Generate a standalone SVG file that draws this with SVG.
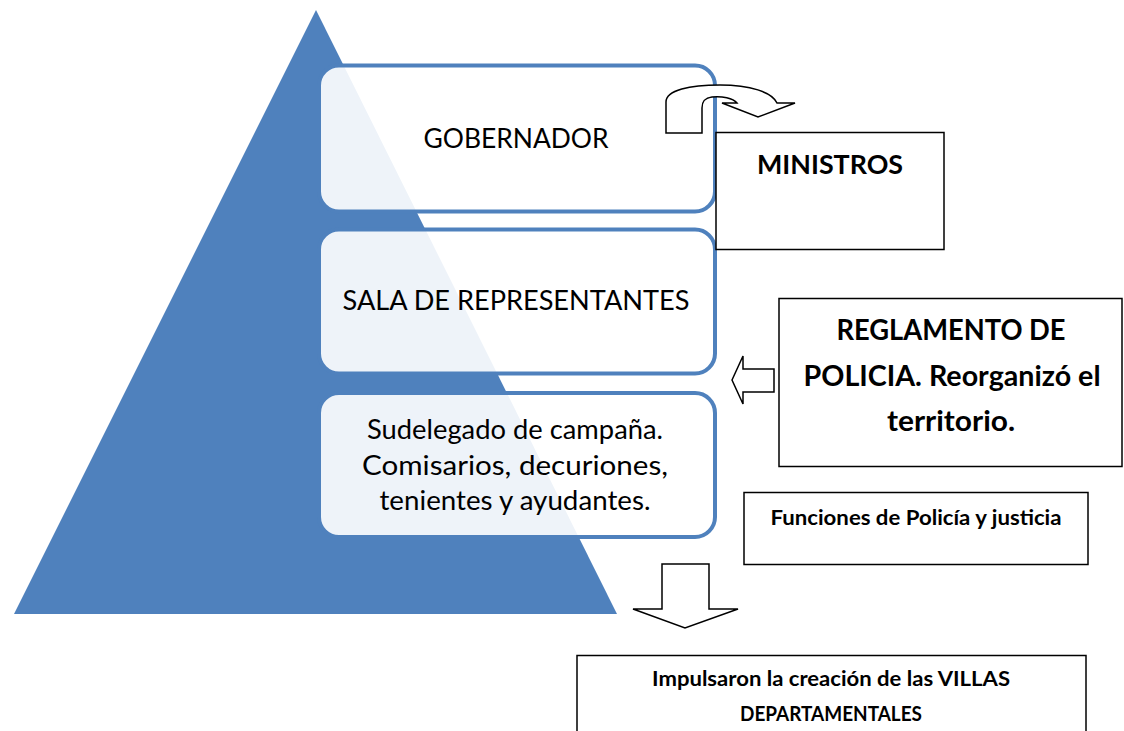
<svg xmlns="http://www.w3.org/2000/svg" width="1124" height="731" viewBox="0 0 1124 731">
<style>
.lvl{fill:#ffffff;fill-opacity:0.9;stroke:#4F81BD;stroke-width:4}
.box{fill:#ffffff;stroke:#000000;stroke-width:1.5}
.arr{fill:#ffffff;stroke:#000000;stroke-width:1.5;stroke-linejoin:miter}
.t{font-family:Lato,"Liberation Sans",sans-serif;fill:#000000;text-anchor:middle}
.b{font-weight:bold}
</style>
<rect width="1124" height="731" fill="#ffffff"/>
<g id="pyramid">
<polygon points="316,10 14,614 617,614" fill="#4F81BD"/>
</g>
<g id="gobernador">
<rect class="lvl" x="319" y="65.5" width="396" height="146" rx="20"/>
<text class="t" x="516" y="148" font-size="27" textLength="185" lengthAdjust="spacingAndGlyphs">GOBERNADOR</text>
</g>
<g id="sala">
<rect class="lvl" x="319" y="229.5" width="396" height="144" rx="20"/>
<text class="t" x="516" y="310" font-size="27" textLength="347" lengthAdjust="spacingAndGlyphs">SALA DE REPRESENTANTES</text>
</g>
<g id="sudelegado">
<rect class="lvl" x="319" y="393" width="396" height="144" rx="20"/>
<text class="t" x="515" y="439" font-size="27" textLength="296" lengthAdjust="spacingAndGlyphs">Sudelegado de campaña.</text>
<text class="t" x="515" y="475" font-size="27" textLength="306" lengthAdjust="spacingAndGlyphs">Comisarios, decuriones,</text>
<text class="t" x="515" y="510" font-size="27" textLength="271" lengthAdjust="spacingAndGlyphs">tenientes y ayudantes.</text>
</g>
<g id="ministros">
<rect class="box" x="716" y="132.5" width="228" height="117"/>
<text class="t b" x="830" y="174" font-size="27" textLength="146" lengthAdjust="spacingAndGlyphs">MINISTROS</text>
</g>
<g id="reglamento">
<rect class="box" x="779" y="298.5" width="343" height="168"/>
<text class="t b" x="951" y="340" font-size="28" textLength="229" lengthAdjust="spacingAndGlyphs">REGLAMENTO DE</text>
<text class="t b" x="952" y="386" font-size="28" textLength="297" lengthAdjust="spacingAndGlyphs">POLICIA. Reorganizó el</text>
<text class="t b" x="951" y="431" font-size="28" textLength="128" lengthAdjust="spacingAndGlyphs">territorio.</text>
</g>
<g id="funciones">
<rect class="box" x="744" y="492.5" width="344" height="72"/>
<text class="t b" x="916" y="525" font-size="21" textLength="291" lengthAdjust="spacingAndGlyphs">Funciones de Policía y justicia</text>
</g>
<g id="impulsaron">
<rect class="box" x="577" y="655.5" width="509" height="90"/>
<text class="t b" x="831" y="686" font-size="21" textLength="358" lengthAdjust="spacingAndGlyphs">Impulsaron la creación de las VILLAS</text>
<text class="t b" x="831" y="721" font-size="21" textLength="182" lengthAdjust="spacingAndGlyphs">DEPARTAMENTALES</text>
</g>
<g id="connectors">
<path class="arr" d="M666,133 L666,102 C666,90 690,85 720,85 C750,85 772,92 777,103 L795,103 L758,117 L722,103 L737,103 C733,98 722,96 712,97 C704,98 702,102 702,108 L702,133 Z"/>
<polygon class="arr" points="732,380 743,356 743,369 774,369 774,392 743,392 743,404"/>
<polygon class="arr" points="662,564 709,564 709,609 738,609 685,628 633,609 662,609"/>
</g>
</svg>
